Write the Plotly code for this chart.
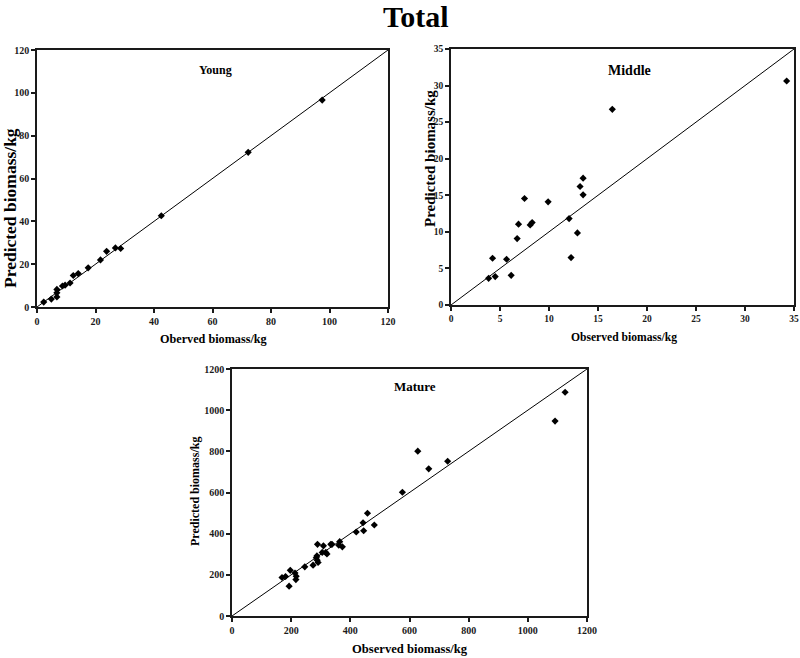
import plotly.graph_objects as go

# ---------------- data ----------------
young_obs = [2.3, 4.9, 6.8, 6.8, 6.8, 8.7, 9.6, 11.3, 12.4, 14.1, 17.5, 21.7, 23.8, 26.8, 28.6, 42.5, 72.2, 97.5]
young_pred = [2.3, 3.7, 8.2, 6.6, 4.7, 9.8, 10.2, 11.2, 14.7, 15.6, 18.3, 22.0, 26.0, 27.6, 27.3, 42.6, 72.2, 96.6]

middle_obs = [3.84, 4.24, 4.51, 5.67, 6.14, 6.75, 6.89, 7.50, 8.08, 8.28, 9.91, 12.05, 12.25, 12.90, 13.17, 13.48, 13.48, 16.46, 34.25]
middle_pred = [3.65, 6.39, 3.88, 6.25, 4.06, 9.08, 11.05, 14.56, 10.95, 11.27, 14.10, 11.82, 6.48, 9.86, 16.20, 17.34, 15.06, 26.75, 30.63]

mature_obs = [169, 181, 197, 193, 213, 217, 216, 246, 274, 289, 285, 288, 291, 287, 309, 305, 317, 321,
              334, 338, 364, 361, 373, 420, 443, 445, 458, 481, 576, 628, 665, 729, 1092, 1126]
mature_pred = [187, 192, 222, 145, 209, 193, 177, 239, 247, 348, 283, 271, 260, 292, 341, 309, 309, 301,
               348, 348, 361, 344, 336, 408, 453, 414, 499, 442, 601, 801, 715, 752, 947, 1087]

young_ticks = [0, 20, 40, 60, 80, 100, 120]
middle_ticks = [0, 5, 10, 15, 20, 25, 30, 35]
mature_ticks = [0, 200, 400, 600, 800, 1000, 1200]

W, H = 800, 658
SERIF = "Liberation Serif, Times New Roman, serif"


def px_x(p):
    return p / W


def px_y(p):
    return 1 - p / H


fig = go.Figure()

panels = [
    # obs, pred, max, ticks, axis id, (x0,x1,ytop,ybottom), tickfont size
    (young_obs, young_pred, 120, young_ticks, "", (37, 388, 50, 307), 10),
    (middle_obs, middle_pred, 35, middle_ticks, "2", (451, 794, 49, 305), 9.5),
    (mature_obs, mature_pred, 1200, mature_ticks, "3", (232, 587, 369, 616), 10),
]

layout_axes = {}
for obs, pred, mx, ticks, aid, (x0, x1, yt, yb), tfs in panels:
    xa = "x" + aid
    ya = "y" + aid
    # 1:1 line
    fig.add_trace(go.Scatter(x=[0, mx], y=[0, mx], mode="lines",
                             line=dict(color="black", width=1),
                             xaxis=xa, yaxis=ya, showlegend=False, hoverinfo="skip"))
    fig.add_trace(go.Scatter(x=obs, y=pred, mode="markers",
                             marker=dict(symbol="diamond", size=5.5, color="black"),
                             xaxis=xa, yaxis=ya, showlegend=False, cliponaxis=False))
    common = dict(
        showline=True, linecolor="#1a1a1a", linewidth=1.5, mirror=True,
        showgrid=False, zeroline=False, ticks="outside", ticklen=4, tickwidth=1.5,
        tickcolor="#1a1a1a", tickvals=ticks, range=[0, mx], fixedrange=True,
        automargin=False,
        tickfont=dict(family=SERIF, size=tfs, color="#1a1a1a", weight="bold"),
    )
    layout_axes["xaxis" + aid] = dict(common, domain=[px_x(x0), px_x(x1)], anchor="y" + aid)
    layout_axes["yaxis" + aid] = dict(common, domain=[px_y(yb), px_y(yt)], anchor="x" + aid)

fig.update_layout(**layout_axes)

annotations = [
    # text, x px, y px, size, angle
    ("Total", 416, 16, 30, 0),
    ("Young", 215, 70, 12, 0),
    ("Middle", 629, 70, 14, 0),
    ("Mature", 415, 386, 13, 0),
    ("Oberved biomass/kg", 213, 339, 12.2, 0),
    ("Observed biomass/kg", 624, 337, 11.6, 0),
    ("Observed biomass/kg", 410, 649, 12.6, 0),
    ("Predicted biomass/kg", 10, 208, 17.5, -90),
    ("Predicted biomass/kg", 430, 159, 15, -90),
    ("Predicted biomass/kg", 195, 492, 12, -90),
]
for text, x, y, size, ang in annotations:
    fig.add_annotation(text=text, x=px_x(x), y=px_y(y), xref="paper", yref="paper",
                       xanchor="center", yanchor="middle", showarrow=False, textangle=ang,
                       font=dict(family=SERIF, size=size, color="black", weight="bold"))

fig.update_layout(width=W, height=H, margin=dict(l=0, r=0, t=0, b=0),
                  paper_bgcolor="white", plot_bgcolor="white", showlegend=False)

fig.write_html("out.html", config={"displayModeBar": False},
               post_script="document.body.style.margin='0';document.body.style.overflow='hidden';")
